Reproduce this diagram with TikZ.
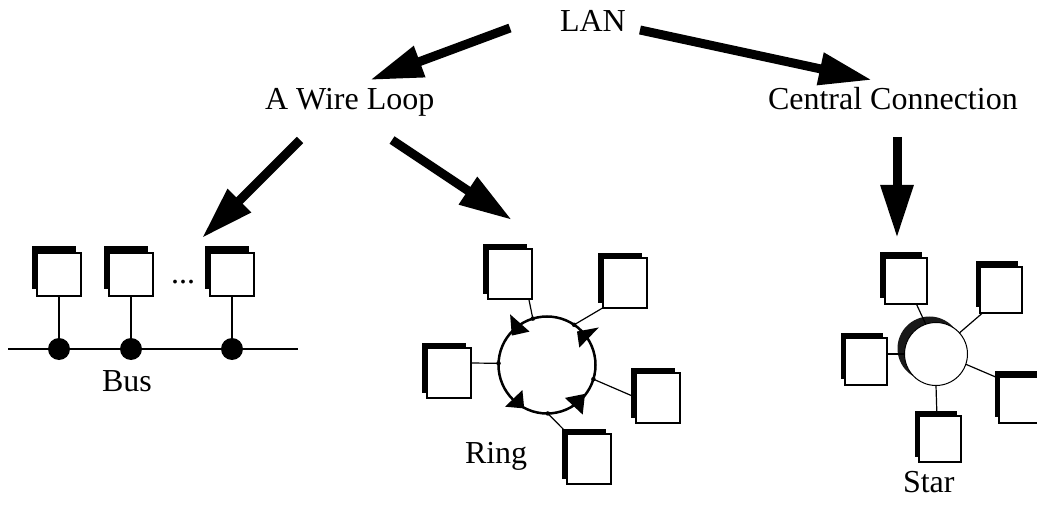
\documentclass[tikz,border=0pt]{standalone}
\usepackage{fontspec}
\setmainfont{Liberation Serif}
\usetikzlibrary{arrows.meta,shadows}

\begin{document}
\begin{tikzpicture}[x=1pt,y=-1pt,
  lbl/.style={anchor=base west,inner sep=0pt,outer sep=0pt,font=\fontsize{32}{38}\selectfont},
  bigarrow/.style={line width=9pt,-{Triangle[length=53pt,width=31pt]}},
  pc/.style n args={4}{draw,line width=2pt,fill=white,inner sep=0pt,outer sep=0pt,
     minimum width=#1,minimum height=#2,
     drop shadow={shadow xshift=#3,shadow yshift=#4,fill=black,opacity=1}},
  buspc/.style={pc={44pt}{43pt}{-5.5pt}{6.5pt}},
  ringpc/.style={pc={44pt}{50pt}{-5pt}{5pt}},
  starpc/.style={pc={42pt}{46pt}{-4.5pt}{5.5pt}},
  busdot/.style={circle,fill=black,inner sep=0pt,minimum size=22pt},
  tapdot/.style={circle,fill=black,inner sep=0pt,minimum size=4.5pt},
  thinwire/.style={line width=1.2pt},
  buswire/.style={line width=2pt}
]
\useasboundingbox (0,0) rectangle (1037,505);

% ---- labels
\node[lbl] (lan) at (560,32) {LAN};
\node[lbl] (wire) at (265,110) {A Wire Loop};
\node[lbl] (central) at (768,110) {Central Connection};
\node[lbl] (buslbl) at (102,391) {Bus};
\node[lbl] (ringlbl) at (465,463) {Ring};
\node[lbl] (starlbl) at (903,492) {Star};

% ---- big arrows
\coordinate (a1s) at (510,28);  \coordinate (a1e) at (370,80);
\coordinate (a2s) at (640,30);  \coordinate (a2e) at (872,80);
\coordinate (a3s) at (300,140); \coordinate (a3e) at (202,238);
\coordinate (a4s) at (392,140); \coordinate (a4e) at (512,220);
\coordinate (a5s) at (897,137); \coordinate (a5e) at (897,238);
\draw[bigarrow] (a1s) -- (a1e);
\draw[bigarrow] (a2s) -- (a2e);
\draw[bigarrow] (a3s) -- (a3e);
\draw[bigarrow] (a4s) -- (a4e);
\draw[bigarrow] (a5s) -- (a5e);

% ---- Bus
\coordinate (busL) at (8,349);
\coordinate (busR) at (298,349);
\draw[buswire] (busL) -- (busR);
\node[busdot] (d1) at (59,349) {};
\node[busdot] (d2) at (131,349) {};
\node[busdot] (d3) at (232,349) {};
\node[buspc] (b1) at (59,274.5) {};
\node[buspc] (b2) at (131,274.5) {};
\node[buspc] (b3) at (232,274.5) {};
\draw[buswire] (b1) -- (d1);
\draw[buswire] (b2) -- (d2);
\draw[buswire] (b3) -- (d3);
\node[anchor=base,inner sep=0pt,font=\fontsize{32}{38}\selectfont] (dots) at (183,284) {...};

% ---- Ring
\node[circle,draw,line width=2.5pt,minimum size=97pt,inner sep=0pt,outer sep=0pt] (ringc) at (547,365) {};
\coordinate (re1) at (528,295);
\coordinate (re2) at (606,306);
\coordinate (re3) at (470,363);
\coordinate (re4) at (637,398);
\coordinate (re5) at (568,434);
\draw[thinwire] (ringc.107) -- (re1);
\draw[thinwire] (ringc.56) -- (re2);
\draw[thinwire] (ringc.178) -- (re3);
\draw[thinwire] (ringc.-17) -- (re4);
\draw[thinwire] (ringc.-89) -- (re5);
\node[tapdot] at (ringc.107) {};
\node[tapdot] at (ringc.56) {};
\node[tapdot] at (ringc.178) {};
\node[tapdot] at (ringc.-17) {};
\node[tapdot] at (ringc.-89) {};
\fill (510.1,314.3) -- (529.6,331.6) -- (511.8,335.6) -- cycle;
\fill (577.0,331.5) -- (598.8,327.5) -- (579.3,347.6) -- cycle;
\fill (564.9,397.9) -- (585.0,393.9) -- (582.7,414.6) -- cycle;
\fill (522.4,390.0) -- (524.2,408.4) -- (505.1,406.7) -- cycle;
\node[ringpc] (r1) at (510,274) {};
\node[ringpc] (r2) at (624.5,283.5) {};
\node[ringpc] (r3) at (449,373) {};
\node[ringpc] (r4) at (658,398) {};
\node[ringpc] (r5) at (589,459) {};

% ---- Star
\coordinate (se1) at (915,301);
\coordinate (se2) at (986,310);
\coordinate (se3) at (885,354);
\coordinate (se4) at (998,378);
\coordinate (se5) at (937,418);
\fill[black!90] (929.5,348.5) circle (32);
\node[circle,draw,fill=white,line width=1pt,minimum size=63pt,inner sep=0pt,outer sep=0pt] (starc) at (936,354) {};
\draw[thinwire] (starc.109) -- (se1);
\draw[thinwire] (starc.42) -- (se2);
\draw[thinwire] (starc.180) -- (se3);
\draw[thinwire] (starc.-19) -- (se4);
\draw[thinwire] (starc.-90) -- (se5);
\node[starpc] (s1) at (905.5,281) {};
\node[starpc] (s2) at (1001,290) {};
\node[starpc] (s3) at (866,361.5) {};
\node[starpc] (s4) at (1020,399.5) {};
\node[starpc] (s5) at (940,439) {};
\end{tikzpicture}
\end{document}
